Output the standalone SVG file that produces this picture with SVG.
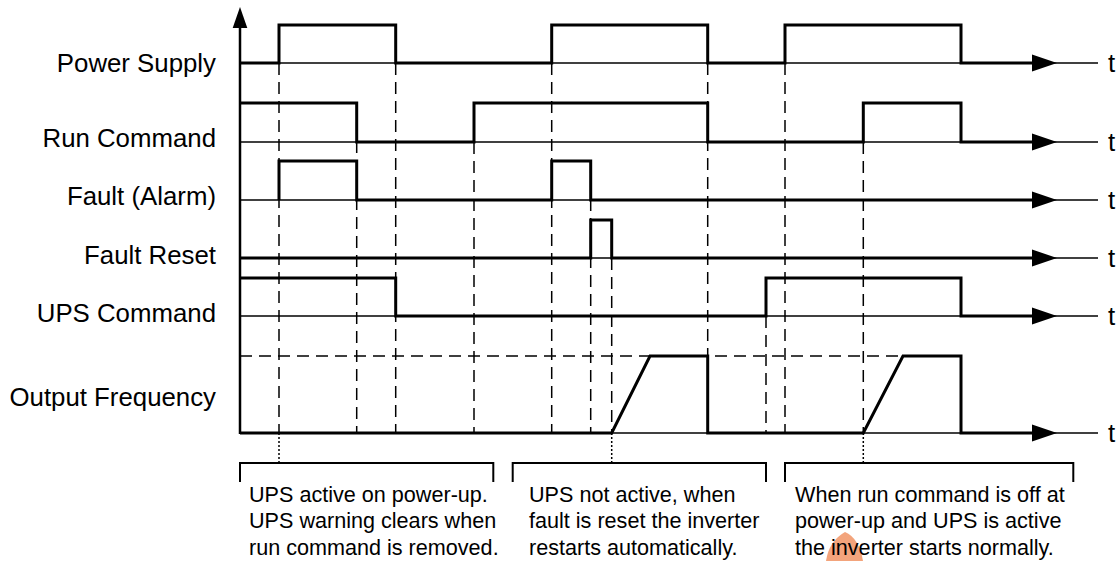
<svg xmlns="http://www.w3.org/2000/svg" width="1120" height="561" viewBox="0 0 1120 561">
<style>
.lbl{font-family:"Liberation Sans",Arial,sans-serif;font-size:25.8px;fill:#000;text-anchor:end}
.t{font-family:"Liberation Sans",Arial,sans-serif;font-size:25.8px;fill:#000}
.note{font-family:"Liberation Sans",Arial,sans-serif;font-size:21.6px;fill:#000}
.base{stroke:#000;stroke-width:1.4;fill:none}
.sig{stroke:#000;stroke-width:3;fill:none;stroke-linejoin:miter}
.dash{stroke:#000;stroke-width:1.5;fill:none;stroke-dasharray:12 7}
.dot{stroke:#000;stroke-width:1.5;fill:none;stroke-dasharray:2 2}
.brk{stroke:#000;stroke-width:2;fill:none}
</style>
<defs>
<path id="arr" d="M0,-8.5 L25,0 L0,8.5 Z" fill="#000"/>
</defs>
<rect width="1120" height="561" fill="#fff"/>
<path d="M826,561 Q829,541 845,532 Q859,538 863,561 Z" fill="#f3a47c"/>
<g id="axis">
<line x1="240" y1="20" x2="240" y2="434" stroke="#000" stroke-width="2.5"/>
<path d="M232.7,28 L240,7 L247.3,28 Z" fill="#000"/>
</g>
<g id="connectors">
<path class="dash" d="M279,63V433 M356.7,103V433 M395.7,63V433 M474,142V433 M551.7,63V433 M590.7,161V433 M611.7,220V433 M707.7,63V356 M766,316V433 M785,63V433 M863.3,142V433"/>
<path class="dash" d="M240,356H903"/>
<path class="dot" d="M279,433V463 M611.7,433V463 M863.3,433V463"/>
</g>
<g id="power-supply">
<text class="lbl" x="216" y="72">Power Supply</text>
<line class="base" x1="240" y1="63" x2="1098" y2="63"/>
<path class="sig" d="M240,63H279V25H395.7V63H551.7V25H707.7V63H785V25H961V63H1035"/>
<use href="#arr" x="1032" y="63"/>
<text class="t" x="1108" y="72">t</text>
</g>
<g id="run-command">
<text class="lbl" x="216" y="147">Run Command</text>
<line class="base" x1="240" y1="142" x2="1098" y2="142"/>
<path class="sig" d="M240,103H356.7V142H474V103H707.7V142H863.3V103H961V142H1035"/>
<use href="#arr" x="1032" y="142"/>
<text class="t" x="1108" y="151">t</text>
</g>
<g id="fault-alarm">
<text class="lbl" x="216" y="205">Fault (Alarm)</text>
<line class="base" x1="240" y1="200" x2="1098" y2="200"/>
<path class="sig" d="M279,200V161H356.7V200H551.7V161H590.7V200H1035"/>
<use href="#arr" x="1032" y="200"/>
<text class="t" x="1108" y="209">t</text>
</g>
<g id="fault-reset">
<text class="lbl" x="216" y="264">Fault Reset</text>
<line class="base" x1="240" y1="258" x2="1098" y2="258"/>
<path class="sig" d="M240,258H590.7V220H611.7V258H1035"/>
<use href="#arr" x="1032" y="258"/>
<text class="t" x="1108" y="267">t</text>
</g>
<g id="ups-command">
<text class="lbl" x="216" y="322">UPS Command</text>
<line class="base" x1="240" y1="316" x2="1098" y2="316"/>
<path class="sig" d="M240,278H395.7V316H766V278H961V316H1035"/>
<use href="#arr" x="1032" y="316"/>
<text class="t" x="1108" y="325">t</text>
</g>
<g id="output-frequency">
<text class="lbl" x="216" y="406">Output Frequency</text>
<line class="base" x1="240" y1="433" x2="1098" y2="433"/>
<path class="sig" d="M240,433H611.7L650,356H707.7V433H863.3L903,356H961V433H1035"/>
<use href="#arr" x="1032" y="433"/>
<text class="t" x="1108" y="442">t</text>
</g>
<g id="note-1">
<path class="brk" d="M240,482V463H493.3V482"/>
<text class="note" x="249" y="501.5">UPS active on power-up.</text>
<text class="note" x="249" y="528">UPS warning clears when</text>
<text class="note" x="249" y="554.5">run command is removed.</text>
</g>
<g id="note-2">
<path class="brk" d="M512.7,482V463H766V482"/>
<text class="note" x="529" y="501.5">UPS not active, when</text>
<text class="note" x="529" y="528">fault is reset the inverter</text>
<text class="note" x="529" y="554.5">restarts automatically.</text>
</g>
<g id="note-3">
<path class="brk" d="M785,482V463H1073.3V482"/>
<text class="note" x="795" y="501.5">When run command is off at</text>
<text class="note" x="795" y="528">power-up and UPS is active</text>
<text class="note" x="795" y="554.5">the inverter starts normally.</text>
</g>
</svg>
